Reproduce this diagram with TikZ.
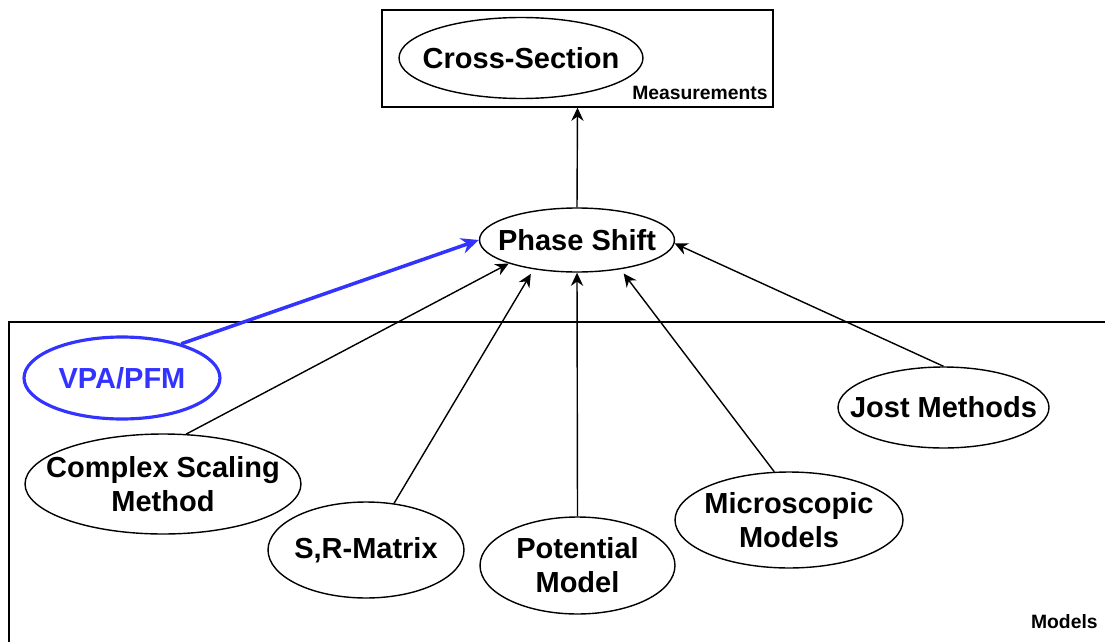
\documentclass[tikz,border=0pt]{standalone}
\usepackage{fontspec}
\setmainfont{Liberation Sans}
\usetikzlibrary{shapes.geometric,arrows.meta}

\definecolor{vpablue}{RGB}{51,51,255}

\tikzset{
    model/.style={ellipse, draw, line width=0.8pt, inner sep=0pt},
    modeltext/.style={align=center, inner sep=0pt, font=\bfseries\fontsize{16.5}{19.5}\selectfont},
    link/.style={-{Stealth[length=7.5pt,width=7pt]}, line width=0.8pt},
    tag/.style={font=\bfseries\fontsize{11}{12}\selectfont, inner sep=0pt}
}

\begin{document}
\begin{tikzpicture}[x=0.02cm, y=-0.02cm]

        \useasboundingbox (0,0) rectangle (1105,642);

        %Boxes
        \node[draw, line width=0.8pt, minimum width=7.82cm, minimum height=1.94cm, inner sep=0pt] (meas) at (577.5,58.5) {};
        \node[tag, anchor=base east] (measlabel) at (768,100) {Measurements};
        \draw[line width=0.8pt] (9,660) |- (1120,322);
        \node[tag, anchor=base east] (modlabel) at (1098,628) {Models};

        %Ellipses
        \node[model, minimum width=4.88cm, minimum height=1.62cm, label={[modeltext]center:Cross-Section}] (cs) at (521,58) {};
        \node[model, minimum width=3.9cm, minimum height=1.28cm, label={[modeltext]center:Phase Shift}] (ps) at (577,240) {};
        \node[model, draw=vpablue, line width=1.8pt, minimum width=3.92cm, minimum height=1.64cm, label={[modeltext, text=vpablue]center:VPA/PFM}] (vpa) at (122,378) {};
        \node[model, minimum width=5.52cm, minimum height=2cm, label={[modeltext]center:Complex Scaling\\Method}] (csm) at (163,484) {};
        \node[model, minimum width=3.92cm, minimum height=1.92cm, label={[modeltext]center:S,R-Matrix}] (srm) at (366,550) {};
        \node[model, minimum width=3.9cm, minimum height=1.94cm, label={[modeltext]center:Potential\\Model}] (pot) at (577.5,565.5) {};
        \node[model, minimum width=4.56cm, minimum height=1.92cm, label={[modeltext]center:Microscopic\\Models}] (mic) at (789,520) {};
        \node[model, minimum width=4.22cm, minimum height=1.62cm, label={[modeltext]center:Jost Methods}] (jost) at (943.5,407.5) {};

        %Arrows
        \draw[link] (ps.north) -- (meas.south);
        \draw[link, vpablue, line width=2pt, -{Stealth[length=10pt,width=9pt]}] (vpa.30) -- (ps.180);
        \draw[link] (csm.65) -- (ps.199);
        \draw[link, shorten >=3pt] (srm.59) -- (ps.214);
        \draw[link] (pot.north) -- (ps.south);
        \draw[link, shorten >=3pt] (mic.107) -- (ps.326);
        \draw[link] (jost.north) -- (ps.358);

\end{tikzpicture}
\end{document}
